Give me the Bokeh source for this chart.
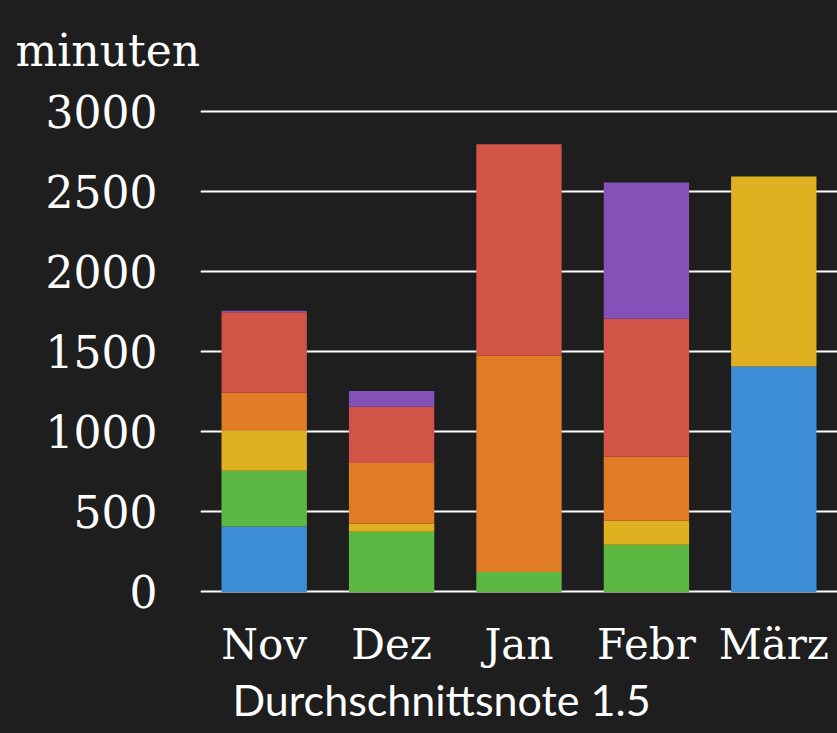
from bokeh.plotting import figure
from bokeh.models import ColumnDataSource, Range1d, FixedTicker, Title
from bokeh.embed import file_html
from bokeh.resources import INLINE

months = ["Nov", "Dez", "Jan", "Febr", "März"]
blue = [408, 0, 0, 0, 1408]
green = [348, 375, 125, 294, 0]
yellow = [252, 50, 0, 150, 1186]
orange = [236, 380, 1350, 402, 0]
red = [502, 352, 1320, 860, 0]
purple = [10, 98, 0, 850, 0]
y_ticks = [0, 500, 1000, 1500, 2000, 2500, 3000]

series = ["blue", "green", "yellow", "orange", "red", "purple"]
colors = ["#3d8ed6", "#5db743", "#dfb121", "#e07c24", "#d15447", "#8550b8"]
BG = "#1e1e1e"

source = ColumnDataSource(dict(months=months, blue=blue, green=green, yellow=yellow,
                               orange=orange, red=red, purple=purple))

p = figure(x_range=months, y_range=Range1d(-60, 3100), width=837, height=733,
           output_backend="svg", toolbar_location=None,
           min_border_left=200, min_border_right=0, min_border_top=95, min_border_bottom=132)
p.title = None
p.x_range.range_padding = 0
p.background_fill_color = BG
p.border_fill_color = BG
p.outline_line_color = None

p.vbar_stack(series, x="months", width=0.67, color=colors, line_color=None, source=source)

p.xgrid.grid_line_color = None
p.ygrid.ticker = FixedTicker(ticks=y_ticks)
p.ygrid.grid_line_color = "white"
p.ygrid.grid_line_width = 2
p.ygrid.grid_line_alpha = 1

p.yaxis.ticker = FixedTicker(ticks=y_ticks)
p.yaxis.axis_line_color = None
p.yaxis.major_tick_line_color = None
p.yaxis.minor_tick_line_color = None
p.yaxis.major_label_standoff = 37
p.yaxis.major_label_text_font = "DejaVu Serif"
p.yaxis.major_label_text_font_size = "44px"
p.yaxis.major_label_text_color = "white"

p.xaxis.axis_line_color = None
p.xaxis.major_tick_line_color = None
p.xaxis.major_label_standoff = 12
p.xaxis.major_label_text_font = "DejaVu Serif"
p.xaxis.major_label_text_font_size = "42px"
p.xaxis.major_label_text_color = "white"

p.add_layout(Title(text="minuten", align="left", offset=-185, standoff=40,
                   text_font="DejaVu Serif", text_font_style="normal",
                   text_font_size="44px", text_color="white"), "above")
p.add_layout(Title(text="Durchschnittsnote 1.5", align="left", offset=32, standoff=0,
                   text_font="Lato", text_font_style="normal",
                   text_font_size="43px", text_color="white"), "below")

html = file_html(p, INLINE)
html = html.replace("<head>", "<head><style>html,body{background:%s;}</style>" % BG, 1)
open("out.html", "w").write(html)
